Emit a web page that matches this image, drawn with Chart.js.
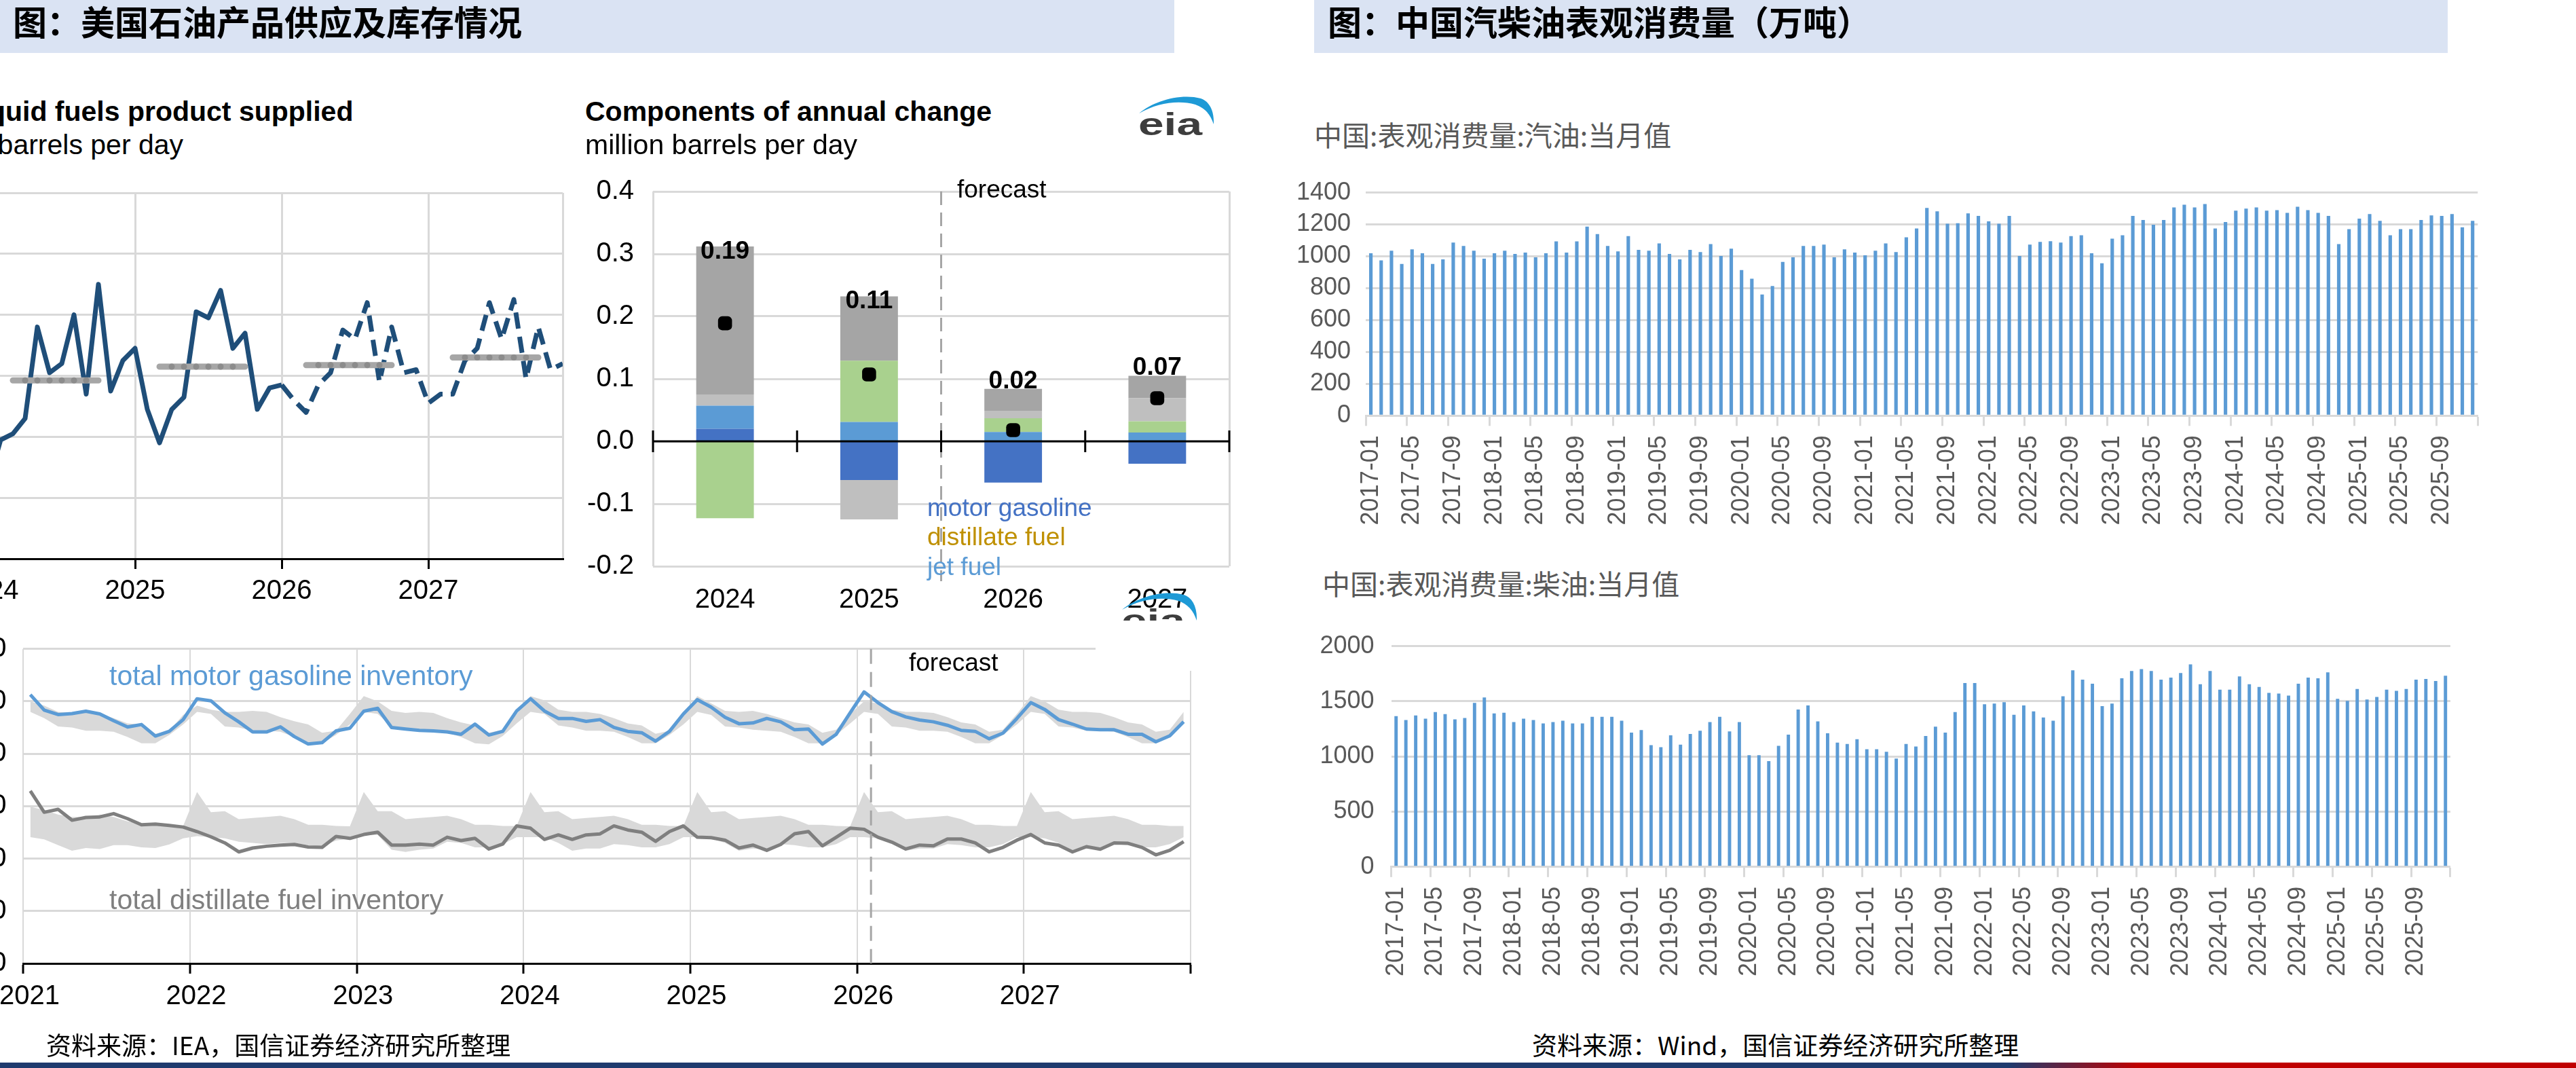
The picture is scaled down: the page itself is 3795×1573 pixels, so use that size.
<!DOCTYPE html>
<html><head><meta charset="utf-8">
<script src="https://cdn.jsdelivr.net/npm/chart.js@4.4.1/dist/chart.umd.min.js"></script>
<style>
html,body{margin:0;padding:0;background:#fff;}
body{width:3795px;height:1573px;overflow:hidden;position:relative;font-family:"Liberation Sans",Arial,sans-serif;}
.t{position:absolute;white-space:nowrap;line-height:1;}
.cjk{font-family:"Noto Sans CJK SC","Noto Sans",sans-serif;}
canvas{position:absolute;}
.band{position:absolute;background:#dae3f3;}
.white{position:absolute;background:#fff;}
</style></head><body>

<div class="band" style="left:0;top:0;width:1730px;height:78px;"></div>
<div class="band" style="left:1936px;top:0;width:1670px;height:78px;"></div>
<div class="t cjk" style="left:19px;top:5px;font-size:50px;font-weight:700;color:#000;">图：美国石油产品供应及库存情况</div>
<div class="t cjk" style="left:1956px;top:5px;font-size:50px;font-weight:700;color:#000;">图：中国汽柴油表观消费量（万吨）</div>

<canvas id="cA" width="1040" height="680" style="left:-200px;top:240px;"></canvas>
<canvas id="cB" width="990" height="700" style="left:840px;top:230px;"></canvas>
<canvas id="cC" width="1920" height="615" style="left:-150px;top:905px;"></canvas>
<canvas id="cD" width="1800" height="560" style="left:1900px;top:240px;"></canvas>
<canvas id="cE" width="1760" height="580" style="left:1900px;top:905px;"></canvas>

<!-- chart A texts -->
<div class="t" style="left:-131px;top:144px;font-size:41px;font-weight:bold;">U.S. liquid fuels product supplied</div>
<div class="t" style="left:-131px;top:193px;font-size:41px;">million barrels per day</div>

<!-- chart B texts -->
<div class="white" style="left:1593px;top:261px;width:181px;height:14px;"></div>
<div class="t" style="left:862px;top:144px;font-size:41px;font-weight:bold;">Components of annual change</div>
<div class="t" style="left:862px;top:193px;font-size:41px;">million barrels per day</div>
<div class="t" style="left:1410px;top:260px;font-size:37px;">forecast</div>
<div class="t" style="left:1366px;top:729px;font-size:37px;color:#4472c4;">motor gasoline</div>
<div class="t" style="left:1366px;top:772px;font-size:37px;color:#bf9000;">distillate fuel</div>
<div class="t" style="left:1366px;top:816px;font-size:37px;color:#5b9bd5;">jet fuel</div>

<div style="position:absolute;left:1677px;top:140px;width:116px;height:64px;">
<svg width="116" height="64" viewBox="0 0 116 64"><path d="M1 27 C 22 9, 62 -3, 92 5 C 104 9, 112 22, 111 43 C 106 28, 98 19, 84 14 C 60 7, 28 11, 1 27 Z" fill="#1e9ad6"/><text x="0" y="59" font-family="Liberation Sans, Arial" font-weight="bold" font-size="46" fill="#3d3d3d" textLength="94" lengthAdjust="spacingAndGlyphs">eia</text></svg>
</div>
<div style="position:absolute;left:1652px;top:871px;width:116px;height:43px;overflow:hidden;">
<svg width="116" height="64" viewBox="0 0 116 64"><path d="M1 27 C 22 9, 62 -3, 92 5 C 104 9, 112 22, 111 43 C 106 28, 98 19, 84 14 C 60 7, 28 11, 1 27 Z" fill="#1e9ad6"/><text x="0" y="59" font-family="Liberation Sans, Arial" font-weight="bold" font-size="46" fill="#3d3d3d" textLength="94" lengthAdjust="spacingAndGlyphs">eia</text></svg>
</div>

<!-- chart C texts -->
<div class="white" style="left:1614px;top:945px;width:160px;height:43px;"></div>
<div class="t" style="left:1339px;top:957px;font-size:37px;">forecast</div>
<div class="t" style="left:161px;top:975px;font-size:41px;color:#5b9bd5;">total motor gasoline inventory</div>
<div class="t" style="left:161px;top:1305px;font-size:41px;color:#7f7f7f;">total distillate fuel inventory</div>

<!-- chart D/E titles -->
<div class="t cjk" style="left:1936px;top:177px;font-size:41px;color:#595959;">中国:表观消费量:汽油:当月值</div>
<div class="t cjk" style="left:1948px;top:838px;font-size:41px;color:#595959;">中国:表观消费量:柴油:当月值</div>

<div class="t cjk" style="left:68px;top:1520px;font-size:37px;color:#000;">资料来源：IEA，国信证券经济研究所整理</div>
<div class="t cjk" style="left:2257px;top:1520px;font-size:37px;color:#000;">资料来源：Wind，国信证券经济研究所整理</div>

<div style="position:absolute;left:0;top:1565px;width:3795px;height:8px;background:linear-gradient(to right,#1f3a6e 0,#1f3a6e 2960px,#c00000 3150px,#c00000 100%);"></div>

<script>
// ---------------- DATA ----------------
// Chart A: U.S. liquid fuels product supplied (million b/d), monthly 2024-01..2027-12
const supplyYears = ['2024', '2025', '2026', '2027'];
const supplyMonthly = [
  20.05, 20.19, 20.21, 20.26, 20.56, 20.41, 20.44, 20.60, 20.34, 20.70, 20.35, 20.45,
  20.49, 20.29, 20.18, 20.29, 20.33, 20.61, 20.59, 20.68, 20.49, 20.54, 20.29, 20.36,
  20.37, 20.32, 20.28, 20.37, 20.41, 20.55, 20.52, 20.64, 20.38, 20.56, 20.41, 20.42,
  20.31, 20.34, 20.34, 20.45, 20.49, 20.64, 20.52, 20.65, 20.39, 20.56, 20.42, 20.44
];
const supplyAnnualAvg = [20.385, 20.43, 20.435, 20.46];
const supplyForecastStart = 24;

// Chart B: components of annual change (million b/d)
const compCategories = ['2024', '2025', '2026', '2027'];
const compMotorGasoline = [0.020, -0.062, -0.066, -0.036];
const compJetFuel = [0.037, 0.031, 0.015, 0.014];
const compDistillate = [-0.123, 0.098, 0.022, 0.018];
const compOtherLight = [0.018, -0.063, 0.012, 0.037];
const compOtherDark = [0.237, 0.103, 0.035, 0.036];
const compTotal = [0.189, 0.107, 0.018, 0.069];

// Chart C: inventories (million barrels), monthly 2021-01..2027-12
const invYears = ['2021', '2022', '2023', '2024', '2025', '2026', '2027'];
const invGasoline = [
  256.4, 241.7, 237.4, 238.4, 240.6, 238.0, 231.5, 225.5, 227.9, 216.9, 221.4, 232.6,
  252.5, 250.5, 239.1, 230.5, 220.8, 220.8, 225.7, 216.4, 209.3, 210.6, 221.8, 224.4,
  240.6, 243.4, 225.1, 223.6, 222.3, 221.8, 220.8, 218.6, 228.3, 217.9, 221.4, 240.8,
  252.5, 240.8, 233.7, 233.7, 230.9, 232.6, 225.1, 221.4, 220.1, 212.1, 221.4, 238.0,
  251.6, 244.5, 234.8, 228.7, 229.4, 233.7, 230.5, 222.9, 223.6, 209.3, 218.6, 239.1,
  259.0, 248.8, 240.2, 235.2, 232.2, 230.5, 227.2, 222.3, 221.4, 214.3, 219.7, 233.7,
  248.8, 242.3, 232.6, 228.3, 223.6, 222.9, 222.9, 218.6, 218.6, 211.5, 217.1, 230.5
];
const invDistillate = [
  164.6, 144.2, 147.0, 136.6, 139.2, 139.8, 142.9, 138.1, 132.3, 132.9, 131.6, 130.1,
  125.8, 120.8, 115.0, 106.4, 110.1, 111.8, 112.9, 113.5, 111.1, 110.7, 121.1, 119.3,
  123.0, 125.2, 112.9, 112.9, 113.9, 112.9, 120.4, 117.2, 119.3, 109.2, 113.9, 131.2,
  129.0, 118.3, 122.6, 118.3, 122.6, 123.6, 131.2, 127.3, 125.2, 116.5, 125.8, 131.2,
  120.4, 120.0, 117.6, 110.1, 112.9, 107.9, 113.5, 123.7, 125.8, 112.2, 120.4, 129.0,
  128.0, 120.4, 115.7, 109.2, 112.9, 112.2, 118.7, 118.7, 115.0, 106.4, 110.7, 117.6,
  123.0, 115.0, 112.9, 106.4, 111.4, 109.0, 115.0, 114.6, 110.7, 103.6, 107.9, 116.1
];
const gasRangeHigh = [
  250, 246, 240, 239, 240, 238, 234, 229, 228, 219, 222, 237,
  246, 242, 240, 240, 241, 240, 235, 231, 228, 220, 222, 238,
  255, 250, 241, 239, 240, 239, 234, 230, 227, 220, 223, 238,
  255, 251, 242, 240, 240, 238, 234, 229, 227, 219, 222, 237,
  255, 248, 241, 240, 241, 238, 234, 230, 228, 220, 223, 238,
  250, 248, 242, 240, 240, 239, 235, 230, 228, 221, 223, 238,
  255, 250, 242, 240, 240, 239, 235, 230, 228, 221, 223, 240
];
const gasRangeLow = [
  240, 234, 226, 225, 222, 222, 221, 216, 210, 210, 218, 228,
  240, 238, 226, 225, 222, 222, 221, 216, 210, 210, 218, 228,
  240, 238, 226, 224, 222, 221, 220, 216, 210, 209, 217, 229,
  240, 238, 227, 225, 222, 222, 221, 216, 210, 210, 218, 228,
  240, 237, 226, 225, 223, 222, 221, 216, 210, 210, 218, 229,
  240, 238, 226, 225, 222, 222, 221, 216, 210, 210, 218, 228,
  240, 238, 226, 225, 222, 222, 221, 216, 210, 210, 218, 229
];
const distRangeHigh = [
  149.5, 146.3, 142.0, 139.8, 139.8, 142.0, 139.8, 135.5, 133.4, 133.4, 132.3, 131.2,
  163.6, 144.2, 145.2, 137.7, 138.8, 139.8, 140.9, 137.7, 132.3, 132.3, 131.2, 130.8,
  163.6, 145.2, 145.2, 137.7, 138.8, 139.8, 140.9, 137.7, 132.3, 132.3, 131.2, 131.2,
  163.6, 144.2, 145.2, 137.7, 138.8, 139.8, 140.9, 137.7, 132.3, 132.3, 131.2, 131.2,
  163.6, 144.2, 145.2, 137.7, 138.8, 139.8, 140.9, 137.7, 132.3, 132.3, 131.2, 130.8,
  163.6, 144.2, 145.2, 137.7, 138.8, 139.8, 140.9, 137.7, 132.3, 132.3, 131.2, 131.2,
  163.6, 144.2, 145.2, 137.7, 138.8, 139.8, 140.9, 137.7, 132.3, 132.3, 131.2, 131.2
];
const distRangeLow = [
  120.4, 118.3, 112.9, 107.5, 110.1, 109.2, 112.9, 112.9, 110.7, 110.1, 113.5, 119.3,
  121.5, 120.4, 119.3, 116.1, 115.0, 113.9, 115.0, 115.0, 112.9, 111.8, 117.2, 119.3,
  122.6, 122.6, 108.5, 106.4, 108.5, 109.6, 116.1, 115.0, 110.7, 110.7, 113.9, 120.4,
  120.4, 120.4, 115.0, 107.5, 109.6, 109.6, 113.9, 112.9, 110.7, 110.7, 113.9, 120.4,
  120.4, 119.3, 115.0, 107.5, 109.6, 108.5, 113.9, 112.9, 110.7, 110.7, 113.9, 120.4,
  120.4, 119.3, 115.0, 107.5, 109.6, 109.6, 113.9, 112.9, 110.7, 110.7, 113.9, 120.4,
  120.4, 119.3, 115.0, 107.5, 109.6, 109.6, 113.9, 112.9, 110.7, 110.7, 113.9, 120.4
];
const invForecastMonth = 61;

// Charts D/E: China apparent consumption (10k tonnes), monthly 2017-01..2025-12
const chinaMonths = [];
for (let yr = 2017; yr <= 2025; yr++) for (let m = 1; m <= 12; m++) chinaMonths.push(yr + '-' + String(m).padStart(2, '0'));
const chinaGasoline = [
  1019, 974, 1035, 952, 1044, 1019, 952, 981, 1086, 1065, 1035, 985,
  1019, 1035, 1015, 1023, 994, 1019, 1094, 1023, 1094, 1186, 1140, 1065,
  1031, 1127, 1040, 1035, 1081, 1015, 981, 1040, 1027, 1077, 1002, 1048,
  914, 860, 760, 814, 965, 994, 1065, 1065, 1073, 994, 1044, 1023,
  1006, 1035, 1081, 1027, 1119, 1175, 1303, 1282, 1204, 1208, 1269, 1253,
  1219, 1204, 1253, 1002, 1073, 1091, 1095, 1086, 1127, 1132, 1019, 956,
  1111, 1132, 1253, 1228, 1198, 1228, 1307, 1324, 1307, 1328, 1175, 1215,
  1286, 1299, 1307, 1286, 1290, 1273, 1311, 1290, 1273, 1253, 1077, 1170,
  1236, 1265, 1223, 1132, 1170, 1170, 1228, 1257, 1253, 1265, 1182, 1223
];
const chinaDiesel = [
  1366, 1330, 1372, 1342, 1402, 1384, 1336, 1348, 1486, 1534, 1390, 1396,
  1312, 1342, 1330, 1300, 1312, 1324, 1300, 1300, 1360, 1360, 1360, 1324,
  1216, 1240, 1102, 1084, 1192, 1108, 1204, 1234, 1312, 1360, 1228, 1312,
  1012, 1012, 958, 1096, 1198, 1426, 1462, 1318, 1210, 1126, 1114, 1156,
  1066, 1066, 1042, 982, 1114, 1090, 1186, 1270, 1216, 1402, 1666, 1666,
  1474, 1480, 1492, 1378, 1462, 1408, 1354, 1324, 1546, 1780, 1696, 1660,
  1456, 1480, 1708, 1774, 1792, 1774, 1696, 1714, 1756, 1834, 1654, 1774,
  1606, 1606, 1726, 1654, 1630, 1576, 1570, 1552, 1660, 1714, 1708, 1762,
  1522, 1504, 1612, 1516, 1540, 1606, 1594, 1612, 1696, 1702, 1684, 1732
];

// ---------------- RENDER ----------------
const FONT = "'Liberation Sans', Arial, sans-serif";
Chart.defaults.font.family = FONT;
Chart.defaults.animation = false;
Chart.defaults.plugins.legend.display = false;
Chart.defaults.plugins.tooltip.enabled = false;
const clear = 'rgba(0,0,0,0)';
const grid = '#d9d9d9';

// Chart A
(function () {
  const last = supplyMonthly.length - 1;
  const avgSeg = [], avgDots = [];
  supplyAnnualAvg.forEach((a, k) => {
    avgSeg.push({ x: k * 12 + 2, y: a }, { x: k * 12 + 9, y: a }, { x: k * 12 + 10, y: null });
    for (let m = 3; m <= 8; m++) avgDots.push({ x: k * 12 + m, y: a });
  });
  new Chart(document.getElementById('cA'), {
    type: 'line',
    data: { datasets: [
      { data: avgDots, showLine: false, pointRadius: 4.5, pointBackgroundColor: '#8c8c8c', pointBorderWidth: 0 },
      { data: avgSeg, borderColor: '#a6a6a6', borderWidth: 9, borderCapStyle: 'round', pointRadius: 0, spanGaps: false },
      { data: supplyMonthly.map((v, i) => ({ x: i, y: v })), borderColor: '#1f4e79', borderWidth: 7, pointRadius: 0,
        borderJoinStyle: 'round',
        segment: { borderDash: c => c.p0DataIndex >= supplyForecastStart ? [24, 12] : undefined } }
    ] },
    options: {
      responsive: false, devicePixelRatio: 1, animation: false,
      layout: { autoPadding: false, padding: { left: 0, top: 37.5, right: 11, bottom: 0 } },
      scales: {
        x: { type: 'linear', min: 0, max: last,
          afterFit: s => { s.height = 97; },
          afterBuildTicks: s => { s.ticks = supplyYears.map((y, k) => ({ value: k * 12 })).concat([{ value: last }]); },
          grid: { color: grid, lineWidth: 3, tickLength: 15, tickWidth: 3,
            tickColor: c => (c.tick && c.tick.value === last) ? clear : '#000' },
          border: { color: '#000', width: 3 },
          ticks: { font: { size: 40 }, color: '#000', padding: 9, maxRotation: 0, autoSkip: false,
            callback: v => (v % 12 === 0 && supplyYears[v / 12]) ? supplyYears[v / 12] : '' } },
        y: { min: 19.8, max: 21.0, afterFit: s => { s.width = 183; },
          ticks: { stepSize: 0.2, font: { size: 40 }, color: '#000', padding: 20, callback: v => v.toFixed(1) },
          grid: { color: grid, lineWidth: 3, drawTicks: false }, border: { display: false } }
      }
    }
  });
})();

// Chart B
(function () {
  const barSeries = [compMotorGasoline, compJetFuel, compDistillate, compOtherLight, compOtherDark];
  const plugin = {
    id: 'compExtras',
    beforeDatasetsDraw(chart) {
      const { ctx, chartArea: a, scales: { x } } = chart;
      const fx = x.getPixelForValue(1.5);
      ctx.save(); ctx.strokeStyle = '#a6a6a6'; ctx.lineWidth = 3; ctx.setLineDash([20, 11]);
      ctx.beginPath(); ctx.moveTo(fx, a.top); ctx.lineTo(fx, a.bottom + 22); ctx.stroke(); ctx.restore();
    },
    afterDatasetsDraw(chart) {
      const { ctx, chartArea: a, scales: { x, y } } = chart;
      const y0 = y.getPixelForValue(0);
      ctx.save();
      ctx.strokeStyle = '#000'; ctx.lineWidth = 3;
      ctx.beginPath(); ctx.moveTo(a.left, y0); ctx.lineTo(a.right, y0);
      for (let i = 0; i <= compCategories.length; i++) {
        const px = x.getPixelForValue(i - 0.5);
        ctx.moveTo(px, y0 - 16); ctx.lineTo(px, y0 + 16);
      }
      ctx.stroke();
      ctx.font = 'bold 37px ' + FONT; ctx.fillStyle = '#000'; ctx.textAlign = 'center';
      compCategories.forEach((c, i) => {
        const top = barSeries.map(s => s[i]).filter(v => v > 0).reduce((p, q) => p + q, 0);
        const py = y.getPixelForValue(top), px = x.getPixelForValue(i);
        const label = compTotal[i].toFixed(2);
        if (compOtherDark[i] > 0.05) { ctx.textBaseline = 'top'; ctx.fillText(label, px, py - 11); }
        else { ctx.textBaseline = 'alphabetic'; ctx.fillText(label, px, py - 1); }
      });
      ctx.restore();
    }
  };
  const colors = ['#4472c4', '#5b9bd5', '#a9d18e', '#bfbfbf', '#a5a5a5'];
  new Chart(document.getElementById('cB'), {
    type: 'bar',
    data: { labels: compCategories, datasets: [
      { type: 'line', data: compTotal, showLine: false, pointStyle: 'rectRounded', pointRadius: 12,
        pointBackgroundColor: '#000', pointBorderWidth: 0 }
    ].concat(barSeries.map((s, k) => ({ data: s, backgroundColor: colors[k], borderWidth: 0,
        barPercentage: 0.4, categoryPercentage: 1 }))) },
    options: {
      responsive: false, devicePixelRatio: 1, animation: false,
      layout: { autoPadding: false, padding: { left: 0, top: 38, right: 19, bottom: 0 } },
      scales: {
        x: { stacked: true, afterFit: s => { s.height = 96; },
          grid: { offset: true, lineWidth: 3, drawTicks: false,
            color: c => (c.index === 0 || c.index === undefined) ? grid : clear },
          border: { display: false },
          ticks: { font: { size: 40 }, color: '#000', padding: 26 } },
        y: { stacked: true, min: -0.2, max: 0.4, afterFit: s => { s.width = 122; },
          ticks: { stepSize: 0.1, font: { size: 40 }, color: '#000', padding: 28,
            callback: v => (Math.abs(v) < 1e-9 ? 0 : v).toFixed(1) },
          grid: { color: grid, lineWidth: 3, drawTicks: false }, border: { display: false } }
      }
    },
    plugins: [plugin]
  });
})();

// Chart C
(function () {
  const n = invGasoline.length;
  const pts = arr => arr.map((v, i) => ({ x: i + 0.5, y: v }));
  const plugin = {
    id: 'invForecast',
    afterDatasetsDraw(chart) {
      const { ctx, chartArea: a, scales: { x } } = chart;
      const fx = x.getPixelForValue(invForecastMonth);
      ctx.save(); ctx.strokeStyle = '#a6a6a6'; ctx.lineWidth = 3; ctx.setLineDash([22, 12]);
      ctx.beginPath(); ctx.moveTo(fx, a.top); ctx.lineTo(fx, a.bottom); ctx.stroke(); ctx.restore();
    }
  };
  const band = { borderWidth: 0, borderColor: clear, pointRadius: 0 };
  new Chart(document.getElementById('cC'), {
    type: 'line',
    data: { datasets: [
      { data: pts(invGasoline), borderColor: '#5b9bd5', borderWidth: 5, pointRadius: 0, borderJoinStyle: 'round' },
      { data: pts(invDistillate), borderColor: '#7f7f7f', borderWidth: 5, pointRadius: 0, borderJoinStyle: 'round' },
      Object.assign({ data: pts(gasRangeHigh), fill: false }, band),
      Object.assign({ data: pts(gasRangeLow), fill: '-1', backgroundColor: grid }, band),
      Object.assign({ data: pts(distRangeHigh), fill: false }, band),
      Object.assign({ data: pts(distRangeLow), fill: '-1', backgroundColor: grid }, band)
    ] },
    options: {
      responsive: false, devicePixelRatio: 1, animation: false,
      layout: { autoPadding: false, padding: { left: 0, top: 50.8, right: 16, bottom: 0 } },
      scales: {
        x: { type: 'linear', min: 0, max: n,
          afterFit: s => { s.height = 101; },
          afterBuildTicks: s => { s.ticks = invYears.map((y, k) => ({ value: k * 12 })).concat([{ value: n }]); },
          grid: { color: grid, lineWidth: 2, tickLength: 15, tickWidth: 3, tickColor: '#000' },
          border: { color: '#000', width: 3 },
          ticks: { font: { size: 40 }, color: '#000', padding: 10, maxRotation: 0, autoSkip: false, labelOffset: 9,
            callback: v => (v % 12 === 0 && invYears[v / 12]) ? invYears[v / 12] : '' } },
        y: { min: 0, max: 300, afterFit: s => { s.width = 184.4; },
          ticks: { stepSize: 50, font: { size: 40 }, color: '#000', padding: 25, callback: v => String(v) },
          grid: { color: grid, lineWidth: 3, drawTicks: false }, border: { display: false } }
      }
    },
    plugins: [plugin]
  });
})();

// Charts D, E
function chinaChart(id, values, maxV, step, padTop, padRight, yWidth, xHeight, yPad) {
  new Chart(document.getElementById(id), {
    type: 'bar',
    data: { labels: chinaMonths, datasets: [{ data: values, backgroundColor: '#5b9bd5', borderWidth: 0,
      barPercentage: 0.34, categoryPercentage: 1 }] },
    options: {
      responsive: false, devicePixelRatio: 1, animation: false,
      layout: { autoPadding: false, padding: { left: 0, top: padTop, right: padRight, bottom: 0 } },
      scales: {
        x: { afterFit: s => { s.height = xHeight; },
          grid: { offset: true, drawOnChartArea: false, tickLength: 15, tickWidth: 3,
            tickColor: c => (c.index === undefined || c.index % 4 === 0) ? grid : clear },
          border: { color: grid, width: 3 },
          ticks: { autoSkip: false, minRotation: 90, maxRotation: 90, font: { size: 36 }, color: '#595959', padding: 14,
            callback: (v, i) => i % 4 === 0 ? chinaMonths[i] : '' } },
        y: { min: 0, max: maxV, afterFit: s => { s.width = yWidth; },
          ticks: { stepSize: step, font: { size: 36 }, color: '#595959', padding: yPad, callback: v => String(v) },
          grid: { color: grid, lineWidth: 3, drawTicks: false }, border: { display: false } }
      }
    }
  });
}
chinaChart('cD', chinaGasoline, 1400, 200, 38.3, 25, 112, 187.7, 22);
chinaChart('cE', chinaDiesel, 2000, 500, 38, 20.5, 149.5, 208.2, 25);
</script>
</body></html>
